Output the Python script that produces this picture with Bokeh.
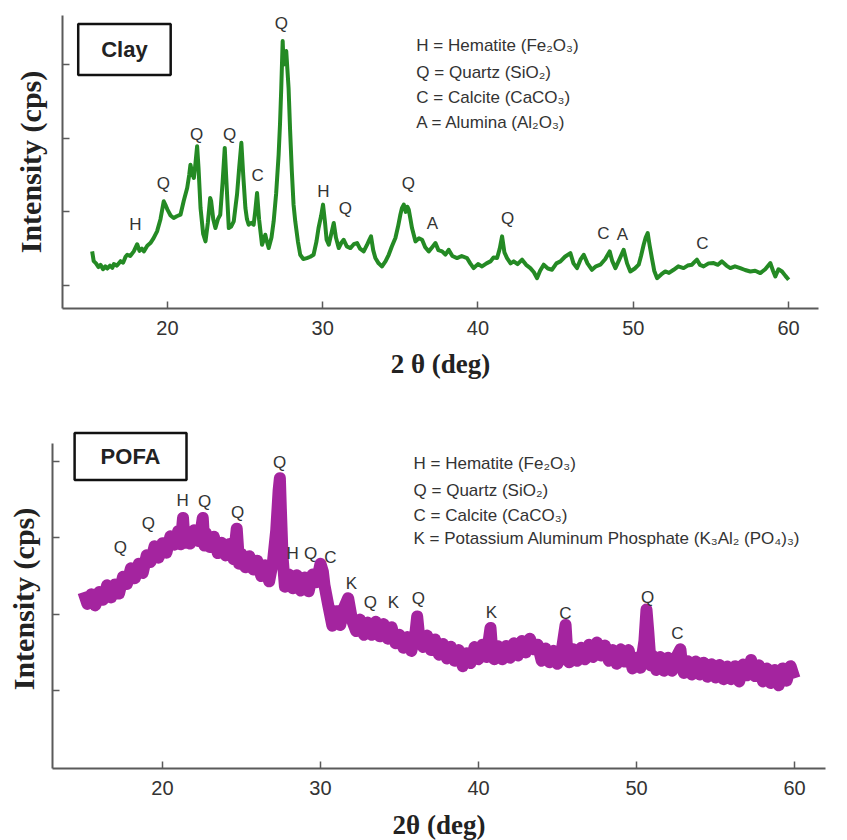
from bokeh.plotting import figure
from bokeh.models import FixedTicker, CustomJSTickFormatter, Label, Range1d
from bokeh.core.properties import value
from bokeh.embed import file_html
from bokeh.resources import INLINE

# ---------------- data: Clay XRD pattern (2theta, intensity) ----------------
clay_2theta = [15.15, 15.25, 15.40, 15.55, 15.69, 15.85, 16.00, 16.12, 16.30, 16.45, 16.55, 16.75, 16.98, 17.15,
               17.30, 17.41, 17.60, 17.83, 18.05, 18.20, 18.35, 18.48, 18.70, 18.90, 19.10, 19.33, 19.55, 19.76,
               19.90, 20.00, 20.20, 20.40, 20.60, 20.84, 21.05, 21.27, 21.40, 21.48, 21.60, 21.70, 21.80, 21.91,
               22.00, 22.13, 22.30, 22.45, 22.60, 22.75, 22.81, 22.95, 23.09, 23.25, 23.40, 23.55, 23.69, 23.80,
               23.95, 24.10, 24.27, 24.40, 24.48, 24.62, 24.76, 24.88, 25.02, 25.12, 25.23, 25.40, 25.55, 25.65,
               25.77, 25.90, 26.09, 26.20, 26.30, 26.40, 26.52, 26.70, 26.84, 27.00, 27.16, 27.25, 27.33, 27.42,
               27.48, 27.55, 27.65, 27.72, 27.80, 27.90, 28.01, 28.12, 28.23, 28.40, 28.55, 28.75, 28.98, 29.20,
               29.41, 29.60, 29.73, 29.90, 30.02, 30.15, 30.25, 30.39, 30.55, 30.71, 30.85, 31.03, 31.20, 31.35,
               31.55, 31.78, 32.00, 32.21, 32.40, 32.64, 32.85, 33.00, 33.11, 33.25, 33.39, 33.60, 33.82, 34.05,
               34.25, 34.45, 34.68, 34.85, 35.00, 35.10, 35.22, 35.35, 35.45, 35.54, 35.65, 35.75, 35.97, 36.20,
               36.40, 36.60, 36.83, 37.05, 37.26, 37.45, 37.69, 37.90, 38.11, 38.35, 38.65, 38.95, 39.29, 39.50,
               39.72, 40.00, 40.26, 40.55, 40.80, 41.00, 41.23, 41.40, 41.55, 41.70, 41.87, 42.10, 42.30, 42.55,
               42.84, 43.10, 43.37, 43.60, 43.80, 44.00, 44.23, 44.50, 44.77, 45.05, 45.31, 45.60, 45.95, 46.15,
               46.38, 46.60, 46.81, 47.05, 47.34, 47.60, 47.88, 48.20, 48.48, 48.65, 48.85, 49.10, 49.38, 49.60,
               49.81, 50.10, 50.35, 50.50, 50.67, 50.80, 50.93, 51.05, 51.20, 51.35, 51.53, 51.80, 52.06, 52.30,
               52.60, 52.90, 53.24, 53.50, 53.78, 53.95, 54.10, 54.30, 54.53, 54.85, 55.18, 55.45, 55.71, 56.00,
               56.25, 56.55, 56.89, 57.20, 57.54, 57.85, 58.18, 58.50, 58.83, 59.00, 59.15, 59.35, 59.58, 59.80,
               60.01]
clay_intensity = [1463, 1330, 1300, 1250, 1280, 1220, 1260, 1230, 1270, 1240, 1290, 1270, 1330, 1310,
                  1390, 1417, 1400, 1463, 1560, 1470, 1500, 1463, 1540, 1576, 1640, 1735, 1900, 2143,
                  2080, 2030, 1950, 1916, 1940, 1961, 2150, 2324, 2500, 2641, 2520, 2460, 2650, 2891,
                  2600, 2052, 1700, 1599, 1850, 2188, 2150, 1900, 1780, 1900, 1961, 2400, 2868, 2400,
                  1780, 1800, 1871, 2100, 2234, 2600, 2937, 2500, 2052, 1900, 1825, 1850, 1825, 2000,
                  2256, 1900, 1553, 1620, 1689, 1600, 1508, 1650, 1871, 2250, 2778, 3200, 3685, 4320,
                  4000, 4093, 4184, 3950, 3685, 3100, 2551, 2100, 1871, 1600, 1417, 1360, 1372, 1390,
                  1417, 1600, 1780, 1950, 2098, 1850, 1620, 1553, 1700, 1848, 1650, 1508, 1580, 1621,
                  1530, 1508, 1560, 1576, 1500, 1463, 1550, 1620, 1667, 1480, 1372, 1300, 1259, 1330,
                  1417, 1530, 1644, 1800, 1962, 2050, 2098, 2000, 2070, 2030, 1900, 1780, 1599, 1640,
                  1621, 1520, 1463, 1520, 1576, 1480, 1463, 1420, 1485, 1400, 1372, 1400, 1372, 1300,
                  1236, 1290, 1259, 1300, 1327, 1380, 1372, 1500, 1667, 1450, 1372, 1300, 1327, 1290,
                  1350, 1280, 1236, 1180, 1099, 1200, 1282, 1230, 1214, 1300, 1327, 1390, 1440, 1300,
                  1236, 1350, 1417, 1300, 1213, 1260, 1282, 1360, 1463, 1330, 1236, 1350, 1485, 1300,
                  1190, 1230, 1282, 1400, 1553, 1650, 1712, 1550, 1372, 1200, 1099, 1150, 1190, 1170,
                  1213, 1260, 1236, 1270, 1282, 1320, 1350, 1280, 1259, 1300, 1304, 1280, 1327, 1270,
                  1236, 1260, 1236, 1210, 1190, 1200, 1168, 1220, 1304, 1200, 1122, 1220, 1190, 1130,
                  1077]

# ---------------- data: POFA XRD pattern (2theta, intensity) ----------------
pofa_2theta = [15.00, 15.25, 15.50, 15.75, 16.00, 16.25, 16.50, 16.75, 17.00, 17.25, 17.50, 17.75, 18.00, 18.25,
               18.50, 18.75, 19.00, 19.25, 19.50, 19.75, 20.00, 20.25, 20.50, 20.75, 21.00, 21.15, 21.30, 21.40,
               21.50, 21.75, 22.00, 22.25, 22.40, 22.55, 22.65, 22.75, 23.00, 23.25, 23.50, 23.75, 24.00, 24.25,
               24.50, 24.70, 24.85, 25.00, 25.25, 25.50, 25.75, 26.00, 26.25, 26.50, 26.75, 27.00, 27.20, 27.35,
               27.43, 27.50, 27.60, 27.75, 28.00, 28.25, 28.50, 28.75, 29.00, 29.25, 29.50, 29.75, 30.00, 30.15,
               30.25, 30.50, 30.75, 31.00, 31.25, 31.50, 31.75, 32.00, 32.25, 32.50, 32.75, 33.00, 33.25, 33.50,
               33.75, 34.00, 34.25, 34.50, 34.75, 35.00, 35.25, 35.50, 35.75, 36.00, 36.12, 36.25, 36.50, 36.75,
               37.00, 37.25, 37.50, 37.75, 38.00, 38.25, 38.50, 38.75, 39.00, 39.25, 39.50, 39.75, 40.00, 40.25,
               40.50, 40.76, 40.90, 41.00, 41.25, 41.50, 41.75, 42.00, 42.25, 42.50, 42.75, 43.00, 43.25, 43.50,
               43.75, 44.00, 44.25, 44.50, 44.75, 45.00, 45.25, 45.51, 45.65, 45.75, 46.00, 46.25, 46.50, 46.75,
               47.00, 47.25, 47.50, 47.75, 48.00, 48.25, 48.50, 48.75, 49.00, 49.25, 49.50, 49.75, 50.00, 50.25,
               50.50, 50.63, 50.75, 50.90, 51.00, 51.25, 51.50, 51.75, 52.00, 52.25, 52.50, 52.78, 52.90, 53.00,
               53.25, 53.50, 53.75, 54.00, 54.25, 54.50, 54.75, 55.00, 55.25, 55.50, 55.75, 56.00, 56.25, 56.50,
               56.75, 57.00, 57.25, 57.50, 57.75, 58.00, 58.25, 58.50, 58.75, 59.00, 59.25, 59.50, 59.75, 60.00]
pofa_intensity = [2290, 2135, 2260, 2115, 2290, 2190, 2380, 2220, 2390, 2270, 2490, 2395, 2600, 2470,
                  2660, 2540, 2770, 2685, 2890, 2740, 2930, 2805, 3020, 2910, 3090, 2915, 3260, 2935,
                  3080, 2925, 3100, 2960, 3050, 3260, 2900, 3060, 2880, 3015, 2800, 2935, 2770, 2920,
                  2720, 3120, 2660, 2790, 2615, 2760, 2585, 2700, 2500, 2640, 2430, 2700, 3100, 3620,
                  3780, 3330, 2750, 2360, 2520, 2340, 2510, 2310, 2480, 2300, 2520, 2420, 2660, 2560,
                  2380, 2110, 1850, 2040, 1860, 2090, 2210, 1920, 1780, 1930, 1730, 1890, 1730, 1900,
                  1710, 1870, 1680, 1830, 1620, 1730, 1560, 1700, 1520, 1740, 1970, 1700, 1570, 1720,
                  1530, 1670, 1470, 1610, 1420, 1575, 1390, 1530, 1320, 1490, 1360, 1570, 1410, 1600,
                  1440, 1820, 1430, 1410, 1580, 1410, 1585, 1430, 1620, 1460, 1650, 1500, 1680, 1540,
                  1600, 1390, 1550, 1370, 1520, 1350, 1500, 1860, 1390, 1370, 1540, 1390, 1560, 1410,
                  1600, 1440, 1630, 1460, 1590, 1390, 1530, 1350, 1540, 1380, 1530, 1290, 1430, 1300,
                  1650, 2060, 1760, 1330, 1460, 1270, 1440, 1260, 1430, 1260, 1430, 1540, 1280, 1230,
                  1385, 1210, 1380, 1210, 1365, 1180, 1345, 1170, 1335, 1150, 1315, 1150, 1320, 1120,
                  1340, 1200, 1400, 1190, 1330, 1120, 1290, 1100, 1270, 1070, 1290, 1130, 1320, 1160]

# ---------------- peak labels ----------------
clay_peak_letters = ["H", "Q", "Q", "Q", "C", "Q", "H", "Q", "Q", "A", "Q", "C", "A", "C"]
clay_peak_2theta = [17.94, 19.74, 21.87, 24.0, 25.8, 27.34, 30.05, 31.46, 35.52, 37.06, 41.9, 48.07, 49.3, 54.45]
clay_peak_level = [1830, 2388, 3054, 3054, 2497, 4565, 2279, 2048, 2388, 1844, 1912, 1708, 1694, 1571]

pofa_peak_letters = ["Q", "Q", "H", "Q", "Q", "Q", "H", "Q", "C", "K", "Q", "K", "Q", "K", "C", "Q", "C"]
pofa_peak_2theta = [17.34, 19.11, 21.27, 22.66, 24.75, 27.41, 28.23, 29.37, 30.63, 31.96, 33.16, 34.62, 36.2,
                    40.82, 45.5, 50.7, 52.59]
pofa_peak_level = [2869, 3183, 3484, 3471, 3327, 3980, 2791, 2791, 2739, 2399, 2150, 2150, 2203, 2020, 2007,
                   2216, 1745]

clay_key = ["H = Hematite (Fe\u2082O\u2083)", "Q = Quartz (SiO\u2082)", "C = Calcite (CaCO\u2083)",
            "A = Alumina (Al\u2082O\u2083)"]
pofa_key = ["H = Hematite (Fe\u2082O\u2083)", "Q = Quartz (SiO\u2082)", "C = Calcite (CaCO\u2083)",
            "K = Potassium Aluminum Phosphate (K\u2083Al\u2082 (PO\u2084)\u2083)"]

x_ticks = [20, 30, 40, 50, 60]
y_ticks = [1000, 2000, 3000, 4000]

SANS = "Liberation Sans"
SERIF = "Liberation Serif"
AXIS_GREY = "#5a5a5a"


def style_axes(p, xlabel, x_label_standoff, y_label_standoff):
    p.xaxis.ticker = FixedTicker(ticks=x_ticks)
    p.yaxis.ticker = FixedTicker(ticks=y_ticks)
    p.yaxis.formatter = CustomJSTickFormatter(code="return '';")
    for ax in (p.xaxis[0], p.yaxis[0]):
        ax.axis_line_color = AXIS_GREY
        ax.axis_line_width = 2
        ax.major_tick_line_color = AXIS_GREY
        ax.major_tick_line_width = 1.5
        ax.major_tick_in = 7
        ax.major_tick_out = 0
        ax.minor_tick_line_color = None
        ax.axis_label_text_font = SERIF
        ax.axis_label_text_font_style = "bold"
        ax.axis_label_text_color = "#222222"
    p.xaxis.axis_label = xlabel
    p.xaxis.axis_label_text_font_size = "27px"
    p.xaxis.major_label_text_font = SANS
    p.xaxis.major_label_text_font_size = "20px"
    p.xaxis.major_label_text_color = "#333333"
    p.xaxis.major_label_standoff = 12
    p.xaxis.axis_label_standoff = x_label_standoff
    p.yaxis.axis_label = "Intensity (cps)"
    p.yaxis.axis_label_text_font_size = "30px"
    p.yaxis.major_label_standoff = 0
    p.yaxis.axis_label_standoff = y_label_standoff
    p.xgrid.grid_line_color = None
    p.ygrid.grid_line_color = None
    p.outline_line_color = None


def add_key(p, lines, x0, ys):
    for t, yy in zip(lines, ys):
        p.add_layout(Label(x=x0, y=yy, text=t, text_font=SANS, text_font_size="17px",
                           text_color="#333333", text_baseline="middle", text_align="left"))


def add_title_box(p, text, xc, yc, pad):
    p.add_layout(Label(x=xc, y=yc, text=text, text_font=SANS, text_font_style="bold",
                       text_font_size="22px", text_color="#222222",
                       text_align="center", text_baseline="middle",
                       background_fill_color="white", background_fill_alpha=1.0,
                       border_line_color="#111111", border_line_width=2.5, padding=pad))


# ---------------- top panel: Clay ----------------
p1 = figure(frame_width=756, frame_height=293, output_backend="svg", toolbar_location=None,
            x_range=Range1d(13.24, 61.93), y_range=Range1d(687, 4667),
            min_border_left=62, min_border_right=25, min_border_top=15, min_border_bottom=120,
            background_fill_color="white", border_fill_color="white")
style_axes(p1, "2 \u03b8 (deg)", 11, 16)
p1.line(clay_2theta, clay_intensity, line_color="#248a24", line_width=4, line_join="round")
p1.text(x=clay_peak_2theta, y=clay_peak_level, text=clay_peak_letters, text_font=value(SANS),
        text_font_size="17px", text_color="#333333", text_align="center", text_baseline="middle")
add_key(p1, clay_key, 36.03, [4265, 3898, 3558, 3218])
add_title_box(p1, "Clay", 17.23, 4204, (23, 13))

# ---------------- bottom panel: POFA ----------------
# frame reaches a little above the axis so the title box is not clipped; the axis line stops at 4235
p2 = figure(frame_width=773, frame_height=339, output_backend="svg", toolbar_location=None,
            x_range=Range1d(13.04, 61.96), y_range=Range1d(-20, 4418),
            min_border_left=52, min_border_right=18, min_border_top=1, min_border_bottom=70,
            background_fill_color="white", border_fill_color="white")
style_axes(p2, "2\u03b8 (deg)", 12, 13)
p2.yaxis.bounds = (-20, 4235)
p2.line(pofa_2theta, pofa_intensity, line_color="#a4249f", line_width=12, line_join="round")
p2.text(x=pofa_peak_2theta, y=pofa_peak_level, text=pofa_peak_letters, text_font=value(SANS),
        text_font_size="17px", text_color="#333333", text_align="center", text_baseline="middle")
add_key(p2, pofa_key, 35.89, [3967, 3614, 3288, 2987])
add_title_box(p2, "POFA", 17.98, 4066, (26, 11))

open("out.html", "w").write(file_html([p1, p2], INLINE))
